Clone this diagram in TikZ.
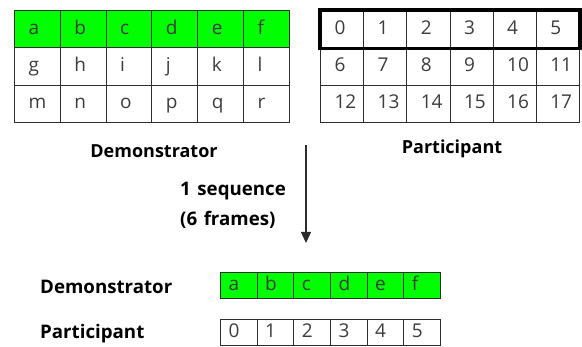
\documentclass[tikz,border=0pt]{standalone}
\usepackage{fontspec}
\setmainfont{Open Sans}
\usetikzlibrary{arrows.meta}
\definecolor{brightgreen}{RGB}{0,255,0}
\definecolor{celltext}{RGB}{60,60,60}
\definecolor{gridline}{RGB}{45,45,45}
\begin{document}
\begin{tikzpicture}[x=1pt,y=-1pt,
  cellbase/.style={draw=gridline, line width=1pt, anchor=north west, inner ysep=0pt,
    align=left, text=celltext, text height=10pt, text depth=0pt,
    font=\fontsize{19}{19}\selectfont},
  cellL/.style={cellbase, minimum width=45.83pt, minimum height=37.33pt,
    inner xsep=14pt, text width=17.83pt},
  cellR/.style={cellbase, minimum width=43.17pt, minimum height=37.33pt,
    inner xsep=14pt, text width=15.17pt},
  cellS/.style={cellbase, minimum width=36.67pt, minimum height=26.5pt,
    inner xsep=8pt, text width=20.67pt},
  greencell/.style={fill=brightgreen},
  lbl/.style={font=\bfseries\fontsize{18}{18}\selectfont, text=black, inner sep=0pt},
  lblbig/.style={lbl, font=\bfseries\fontsize{18.7}{18.7}\selectfont},
  toprow/.style={draw=black, line width=3.5pt}
]
\useasboundingbox (0,0) rectangle (582,347);

% left grid (Demonstrator)
\foreach \t [count=\i from 0] in {a,b,c,d,e,f}
  \node[cellL, greencell] (L0\i) at ({14+45.83*\i},10) {\t};
\foreach \t [count=\i from 0] in {g,h,i,j,k,l}
  \node[cellL] (L1\i) at ({14+45.83*\i},47.33) {\t};
\foreach \t [count=\i from 0] in {m,n,o,p,q,r}
  \node[cellL] (L2\i) at ({14+45.83*\i},84.67) {\t};

% right grid (Participant)
\foreach \t [count=\i from 0] in {0,1,2,3,4,5}
  \node[cellR] (R0\i) at ({320+43.17*\i},10) {\t};
\foreach \t [count=\i from 0] in {6,7,8,9,10,11}
  \node[cellR] (R1\i) at ({320+43.17*\i},47.33) {\t};
\foreach \t [count=\i from 0] in {12,13,14,15,16,17}
  \node[cellR] (R2\i) at ({320+43.17*\i},84.67) {\t};
\draw[toprow] (R00.north west) rectangle (R05.south east);

% labels
\node[lbl] (demoTop) at (154,151) {Demonstrator};
\node[lbl] (partTop) at (452,149) {Participant};
\node[lblbig, anchor=west] (seq) at (180,191) {1\hspace{0.35em}sequence};
\node[lblbig, anchor=west] (frames) at (180,220) {(6\hspace{0.35em}frames)};

% arrow
\coordinate (arrowStart) at (306,145);
\coordinate (arrowEnd) at (306,243);
\draw[line width=1.1pt, draw=gridline, -{Triangle[width=10pt,length=11pt]}] (arrowStart) -- (arrowEnd);

% bottom sequences
\node[lblbig, anchor=west] (demoBot) at (40,287) {Demonstrator};
\node[lblbig, anchor=west] (partBot) at (40,334) {Participant};
\foreach \t [count=\i from 0] in {a,b,c,d,e,f}
  \node[cellS, greencell] (D\i) at ({220+36.67*\i},272) {\t};
\foreach \t [count=\i from 0] in {0,1,2,3,4,5}
  \node[cellS] (P\i) at ({220+36.67*\i},319) {\t};
\end{tikzpicture}
\end{document}
